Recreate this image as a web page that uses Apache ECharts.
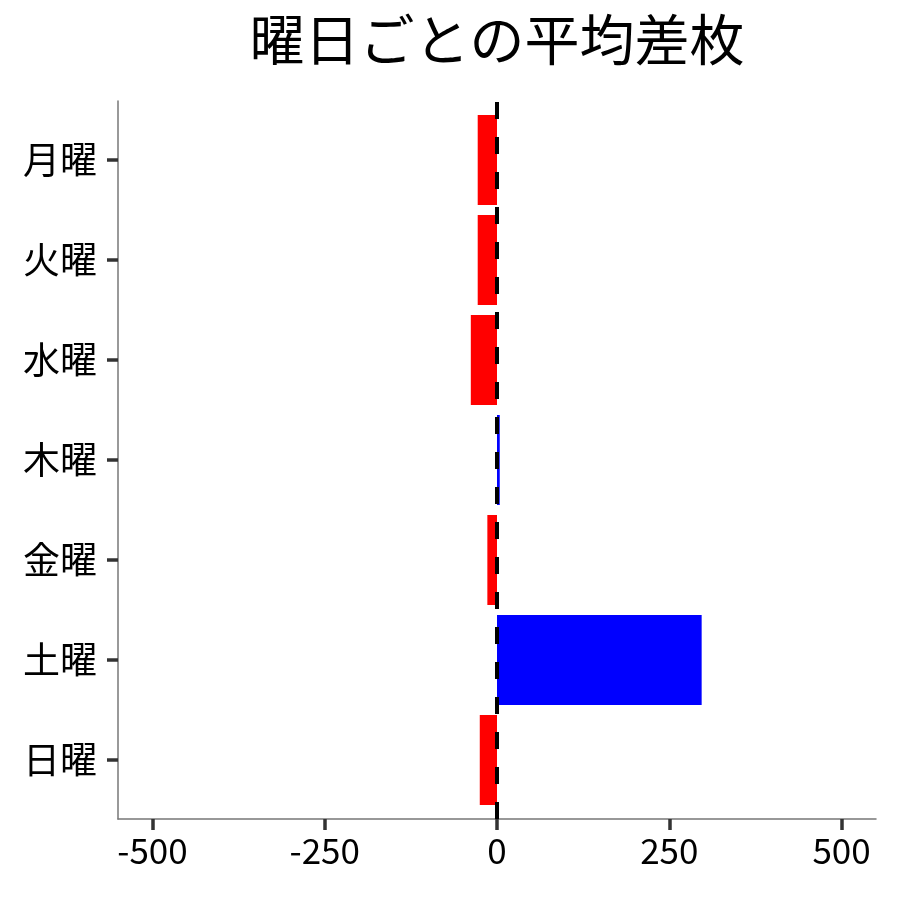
<!DOCTYPE html>
<html><head><meta charset="utf-8">
<script src="https://cdn.jsdelivr.net/npm/echarts@6/dist/echarts.min.js"></script>
<style>html,body{margin:0;padding:0;background:#fff}#c{width:900px;height:900px}</style>
</head><body><div id="c"></div>
<script>
const days = ['月曜','火曜','水曜','木曜','金曜','土曜','日曜'];
const values = [-28, -28, -38, 4, -14, 297, -25];
const xTicks = [-500, -250, 0, 250, 500];
const titleText = '曜日ごとの平均差枚';

const FONT = '"Noto Sans CJK JP", "Noto Sans", sans-serif';
const chart = echarts.init(document.getElementById('c'), null, {renderer: 'canvas'});
chart.setOption({
  backgroundColor: '#fff',
  animation: false,
  title: {
    text: titleText, left: 492, top: 7, textAlign: 'center',
    textStyle: {fontFamily: FONT, fontSize: 55, fontWeight: 'normal', color: '#000'}
  },
  grid: [
    {left: 118, width: 758, top: 101, height: 718},
    {left: 118, width: 758, top: 110, height: 700}
  ],
  xAxis: [
    {
      type: 'value', gridIndex: 0, min: -550, max: 550,
      axisLine: {show: true, onZero: false, lineStyle: {color: '#777', width: 1.5}},
      axisTick: {show: true, customValues: xTicks, length: 11, lineStyle: {color: '#333', width: 3.5}},
      axisLabel: {show: true, customValues: xTicks, margin: 14, fontFamily: FONT, fontSize: 35, color: '#000'},
      splitLine: {show: false}
    },
    {
      type: 'value', gridIndex: 1, min: -550, max: 550, show: false,
      splitLine: {show: false}
    }
  ],
  yAxis: [
    {
      type: 'value', gridIndex: 0, min: 0, max: 1,
      axisLine: {show: true, onZero: false, lineStyle: {color: '#777', width: 1.5}},
      axisTick: {show: false}, axisLabel: {show: false}, splitLine: {show: false}
    },
    {
      type: 'category', gridIndex: 1, data: days, inverse: true,
      axisLine: {show: false, onZero: false},
      axisTick: {show: true, alignWithLabel: true, length: 11, lineStyle: {color: '#333', width: 3.5}},
      axisLabel: {show: true, margin: 21, fontFamily: FONT, fontSize: 37, color: '#000'},
      splitLine: {show: false}
    }
  ],
  series: [
    {
      type: 'bar', xAxisIndex: 1, yAxisIndex: 1, barWidth: '90%',
      data: values.map(v => ({value: v, itemStyle: {color: v >= 0 ? '#0000FF' : '#FF0000'}}))
    },
    {
      type: 'line', xAxisIndex: 0, yAxisIndex: 0, data: [], silent: true,
      markLine: {
        symbol: 'none', silent: true, label: {show: false},
        lineStyle: {color: '#000', width: 4, type: [17, 18]},
        data: [{xAxis: 0}]
      }
    }
  ]
});
</script></body></html>
